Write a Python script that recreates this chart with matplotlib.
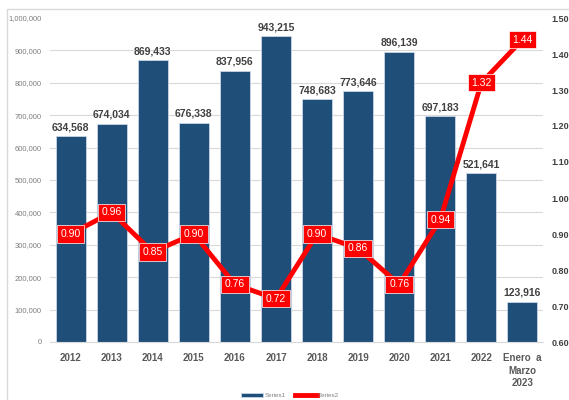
import matplotlib

matplotlib.use("Agg")

import matplotlib.pyplot as plt
from matplotlib.patches import Rectangle
from matplotlib.ticker import FuncFormatter

plt.rcParams["font.family"] = ["Liberation Sans", "DejaVu Sans"]

categories = ["2012", "2013", "2014", "2015", "2016", "2017", "2018", "2019",
              "2020", "2021", "2022", "Enero  a\nMarzo\n2023"]
series1 = [634568, 674034, 869433, 676338, 837956, 943215, 748683, 773646,
           896139, 697183, 521641, 123916]
series2 = [0.90, 0.96, 0.85, 0.90, 0.76, 0.72, 0.90, 0.86, 0.76, 0.94, 1.32, 1.44]

bar_color = "#1f4e79"
line_color = "#ff0000"

fig = plt.figure(figsize=(5.69, 4.0), dpi=100)
ax = fig.add_axes([50 / 569, 1 - 342 / 400, 493 / 569, 324 / 400])
ax2 = ax.twinx()

x = list(range(len(categories)))
bars = ax.bar(x, series1, width=0.73, color=bar_color, edgecolor="#c9d6e6",
              linewidth=0.6, label="Series1", zorder=2)
for xi, v in zip(x, series1):
    ax.text(xi, v + 12000, f"{v:,}", ha="center", va="bottom", fontsize=7.5,
            fontweight="bold", color="#404040", zorder=3)

ax.set_xlim(-0.5, len(categories) - 0.5)
ax.set_ylim(0, 1000000)
ax.set_yticks(range(0, 1000001, 100000))
ax.yaxis.set_major_formatter(FuncFormatter(lambda v, p: f"{int(v):,}"))
ax.tick_params(axis="y", length=0, labelsize=5.5, labelcolor="#7f7f7f", pad=6)
ax.set_xticks(x)
ax.set_xticklabels(categories, fontsize=7, fontweight="bold", color="#595959",
                   linespacing=1.3)
ax.tick_params(axis="x", length=0, pad=8)
ax.grid(axis="y", color="#d9d9d9", linewidth=0.8, zorder=0)
ax.yaxis.get_gridlines()[-1].set_visible(False)
ax.set_axisbelow(True)
for s in ["top", "right", "left"]:
    ax.spines[s].set_visible(False)
ax.spines["bottom"].set_color("#d9d9d9")

line, = ax2.plot(x, series2, color=line_color, linewidth=3.5, label="Series2",
                 zorder=4, solid_joinstyle="miter")
for xi, v in zip(x, series2):
    ax2.text(xi, v, f"{v:.2f}", ha="center", va="center", fontsize=7.5,
             color="white", zorder=5,
             bbox=dict(boxstyle="square,pad=0.35", facecolor=line_color,
                       edgecolor="white", linewidth=0.5))
ax2.set_ylim(0.6, 1.5)
ax2.set_yticks([0.6 + 0.1 * i for i in range(10)])
ax2.yaxis.set_major_formatter(FuncFormatter(lambda v, p: f"{v:.2f}"))
ax2.tick_params(axis="y", length=0, labelsize=6.5, labelcolor="#404040", pad=6)
for lbl in ax2.get_yticklabels():
    lbl.set_fontweight("bold")
for s in ax2.spines.values():
    s.set_visible(False)

fig.legend([bars, line], ["Series1", "Series2"], loc="lower center",
           bbox_to_anchor=(0.51, -0.01), ncol=2, frameon=False, fontsize=4.5,
           handlelength=3.5, columnspacing=1.5, handletextpad=0.2,
           labelcolor="#7f7f7f")

fig.patches.append(Rectangle((7 / 569, -0.1), 1.2, 1 - 9 / 400 + 0.1,
                             transform=fig.transFigure, fill=False,
                             edgecolor="#d9d9d9", linewidth=1))

fig.savefig("out.png", dpi=100)
